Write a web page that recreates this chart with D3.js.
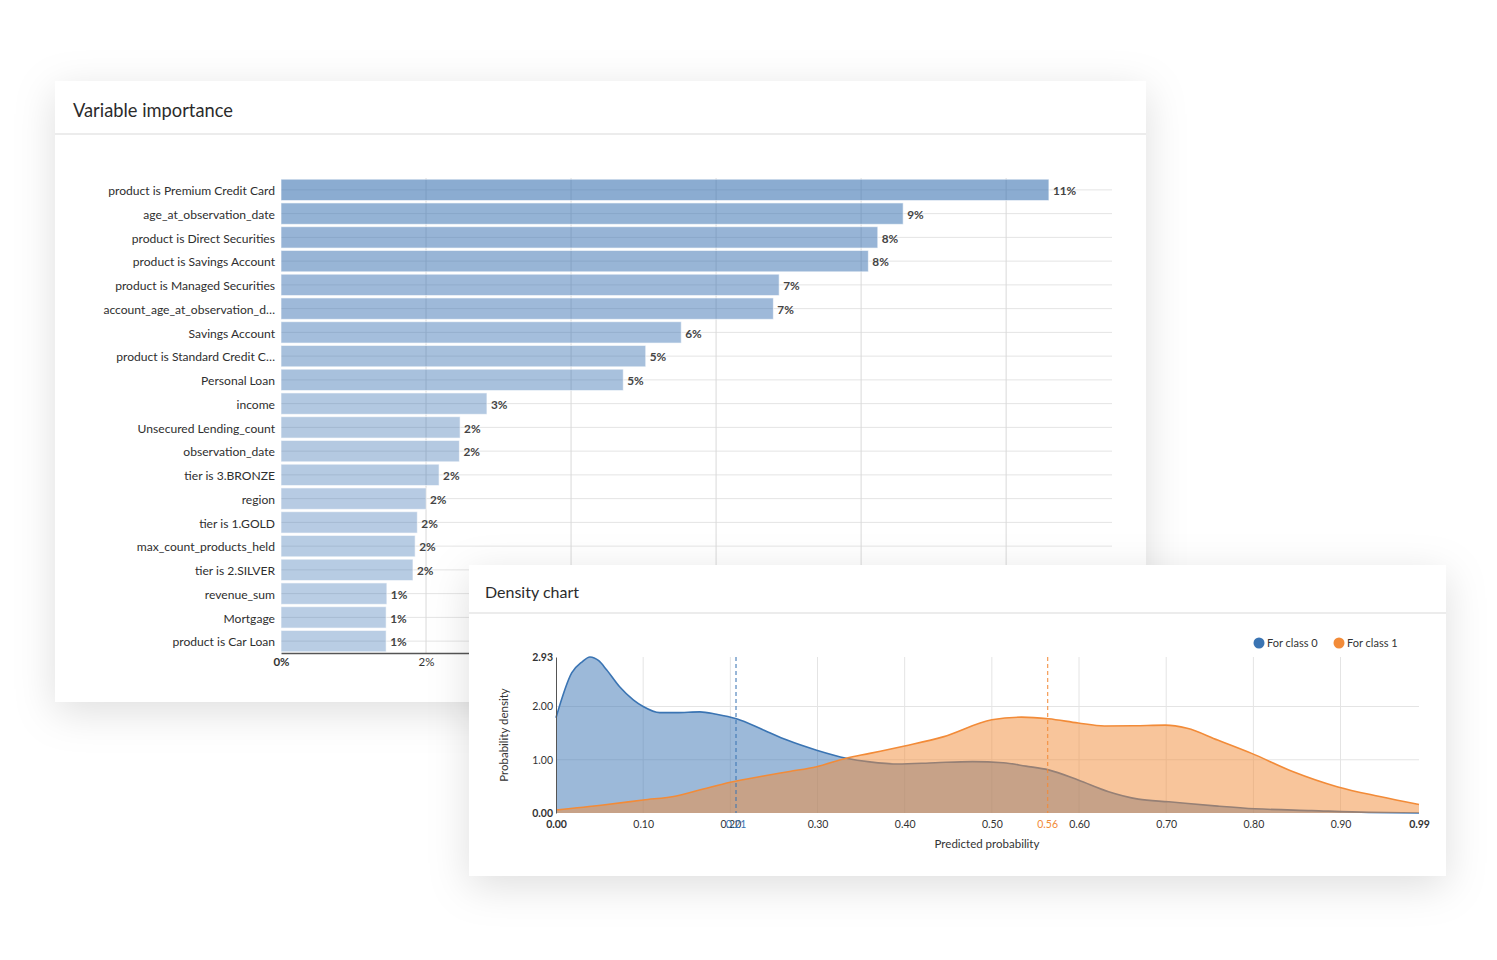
<!DOCTYPE html>
<html>
<head>
<meta charset="utf-8">
<script src="https://cdn.jsdelivr.net/npm/d3@7"></script>
<style>
  body { margin: 0; background: #fff; }
  svg text { font-family: Lato, "Open Sans", sans-serif; fill: #333; }
  .card { fill: #fff; }
  .sep { stroke: #e6e6e6; stroke-width: 1.5; }
  .title { font-size: 18.3px; fill: #2b2b2b; }
  .grid line { stroke: #e4e4e4; stroke-width: 1; }
  .feature-label { font-size: 12.1px; fill: #2e2e2e; }
  .value-label { font-size: 11.8px; font-weight: 700; fill: #444; }
  .tick-label { font-size: 11.5px; }
  .d-tick { font-size: 10.5px; }
</style>
</head>
<body>
<div id="vis"></div>
<script>

var features = ["product is Premium Credit Card", "age_at_observation_date", "product is Direct Securities",
  "product is Savings Account", "product is Managed Securities", "account_age_at_observation_d\u2026",
  "Savings Account", "product is Standard Credit C\u2026", "Personal Loan", "income",
  "Unsecured Lending_count", "observation_date", "tier is 3.BRONZE", "region", "tier is 1.GOLD",
  "max_count_products_held", "tier is 2.SILVER", "revenue_sum", "Mortgage", "product is Car Loan"];
var importance = [0.1059, 0.0858, 0.0823, 0.0810, 0.0687, 0.0679, 0.0552, 0.0503, 0.0472, 0.0284,
  0.0247, 0.0246, 0.0218, 0.0200, 0.0188, 0.0185, 0.0182, 0.0146, 0.0145, 0.0145];
var importanceTicks = [0, 0.02, 0.04, 0.06, 0.08, 0.10];

var class0X = [0, 0.018, 0.03, 0.039, 0.049, 0.058, 0.073, 0.089, 0.10, 0.119, 0.138, 0.165, 0.184, 0.207,
  0.238, 0.265, 0.299, 0.333, 0.36, 0.392, 0.435, 0.478, 0.513, 0.539, 0.565, 0.599, 0.634, 0.668,
  0.703, 0.759, 0.802, 0.867, 0.932, 0.99];
var class0Y = [1.79, 2.63, 2.84, 2.93, 2.86, 2.69, 2.37, 2.12, 2.00, 1.885, 1.885, 1.90, 1.855, 1.77,
  1.56, 1.37, 1.18, 1.03, 0.96, 0.92, 0.945, 0.965, 0.945, 0.88, 0.81, 0.62, 0.40, 0.26,
  0.21, 0.13, 0.08, 0.045, 0.012, 0.0];
var class1X = [0, 0.054, 0.10, 0.138, 0.169, 0.20, 0.238, 0.268, 0.299, 0.333, 0.36, 0.40, 0.444, 0.50,
  0.534, 0.565, 0.599, 0.629, 0.664, 0.699, 0.724, 0.759, 0.798, 0.845, 0.897, 0.945, 0.99];
var class1Y = [0.056, 0.15, 0.244, 0.32, 0.45, 0.577, 0.695, 0.78, 0.87, 1.03, 1.12, 1.26, 1.43, 1.75,
  1.80, 1.77, 1.69, 1.635, 1.64, 1.65, 1.59, 1.37, 1.12, 0.78, 0.49, 0.31, 0.16];
var classNames = ["For class 0", "For class 1"];
var classColors = ["#3a74b3", "#f28b38"];
var classMeans = [0.2065, 0.564];
var densityXTicks = [0, 0.1, 0.2, 0.3, 0.4, 0.5, 0.6, 0.7, 0.8, 0.9, 0.99];
var densityYTicks = [0, 1, 2, 2.93];

var svg = d3.select("#vis").append("svg")
  .attr("width", 1497)
  .attr("height", 960);

var defs = svg.append("defs");
var shadow = defs.append("filter")
  .attr("id", "shadow")
  .attr("x", "-20%").attr("y", "-30%")
  .attr("width", "140%").attr("height", "160%");
shadow.append("feDropShadow")
  .attr("dx", 0).attr("dy", 10)
  .attr("stdDeviation", 20)
  .attr("flood-color", "#000")
  .attr("flood-opacity", 0.13);

// ---- card 1: variable importance
var card1 = {x: 55, y: 81, w: 1091, h: 621};
var c1 = svg.append("g");
c1.append("rect").attr("class", "card")
  .attr("x", card1.x).attr("y", card1.y)
  .attr("width", card1.w).attr("height", card1.h)
  .attr("filter", "url(#shadow)");
c1.append("line").attr("class", "sep")
  .attr("x1", card1.x).attr("x2", card1.x + card1.w)
  .attr("y1", 134).attr("y2", 134);
c1.append("text").attr("class", "title")
  .attr("x", 73).attr("y", 117)
  .text("Variable importance");

var bx = d3.scaleLinear().domain([0, 0.1146]).range([281, 1112]);
var by = d3.scaleBand().domain(features).range([178, 653]).paddingInner(0.1).paddingOuter(0.05);
var op = d3.scaleLinear().domain(d3.extent(importance)).range([0.36, 0.6]);
var pct = d3.format(".0%");

c1.append("g").attr("class", "grid")
  .selectAll("line").data(features).enter()
  .append("line")
  .attr("x1", bx(0)).attr("x2", bx.range()[1])
  .attr("y1", function(d) { return by(d) + by.bandwidth() / 2; })
  .attr("y2", function(d) { return by(d) + by.bandwidth() / 2; });

c1.append("g").attr("class", "grid")
  .selectAll("line").data(importanceTicks.slice(1)).enter()
  .append("line")
  .attr("x1", function(d) { return bx(d); }).attr("x2", function(d) { return bx(d); })
  .attr("y1", 178).attr("y2", 653)
  .style("stroke", "#d9d9d9");

c1.selectAll(".bar").data(features).enter()
  .append("rect")
  .attr("class", "bar")
  .attr("x", bx(0))
  .attr("y", function(d) { return by(d); })
  .attr("width", function(d, i) { return bx(importance[i]) - bx(0); })
  .attr("height", by.bandwidth())
  .attr("fill", "#3d74b3")
  .attr("fill-opacity", function(d, i) { return op(importance[i]); })
  .attr("stroke", "#fff")
  .attr("stroke-opacity", 0.6)
  .attr("stroke-width", 1);

c1.selectAll(".feature-label").data(features).enter()
  .append("text")
  .attr("class", "feature-label")
  .attr("text-anchor", "end")
  .attr("x", 275)
  .attr("y", function(d) { return by(d) + by.bandwidth() / 2 + 1; })
  .attr("dy", "0.35em")
  .text(function(d) { return d; });

c1.selectAll(".value-label").data(features).enter()
  .append("text")
  .attr("class", "value-label")
  .attr("x", function(d, i) { return bx(importance[i]) + 4; })
  .attr("y", function(d) { return by(d) + by.bandwidth() / 2 + 1; })
  .attr("dy", "0.35em")
  .text(function(d, i) { return pct(importance[i]); });

var bAxis = c1.append("g")
  .attr("transform", "translate(0,653)")
  .call(d3.axisBottom(bx).tickValues(importanceTicks).tickFormat(pct).tickSize(0).tickPadding(5));
bAxis.select(".domain").attr("stroke", "#555").attr("stroke-width", 1.5);
bAxis.selectAll("text").attr("class", "tick-label")
  .style("font-weight", function(d) { return d === 0 ? 700 : 400; })
  .style("font-family", "Lato, sans-serif").attr("fill", "#333");

// ---- card 2: density chart
var card2 = {x: 469, y: 565, w: 977, h: 311};
var c2 = svg.append("g");
c2.append("rect").attr("class", "card")
  .attr("x", card2.x).attr("y", card2.y)
  .attr("width", card2.w).attr("height", card2.h)
  .attr("filter", "url(#shadow)");
c2.append("line").attr("class", "sep")
  .attr("x1", card2.x).attr("x2", card2.x + card2.w)
  .attr("y1", 613).attr("y2", 613);
c2.append("text").attr("class", "title")
  .attr("x", 485).attr("y", 598)
  .style("font-size", "16px")
  .text("Density chart");

var dx = d3.scaleLinear().domain([0, 0.99]).range([556, 1419]);
var dy = d3.scaleLinear().domain([0, 2.93]).range([813, 657]);
var f2 = d3.format(".2f");

c2.append("g").attr("class", "grid")
  .selectAll("line").data(densityXTicks.slice(1, -1)).enter()
  .append("line")
  .attr("x1", function(d) { return dx(d); }).attr("x2", function(d) { return dx(d); })
  .attr("y1", dy(2.93)).attr("y2", dy(0));
c2.append("g").attr("class", "grid")
  .selectAll("line").data([1, 2]).enter()
  .append("line")
  .attr("x1", dx(0)).attr("x2", dx(0.99))
  .attr("y1", function(d) { return dy(d); }).attr("y2", function(d) { return dy(d); });

var series = [
  class0X.map(function(x, i) { return [x, class0Y[i]]; }),
  class1X.map(function(x, i) { return [x, class1Y[i]]; })
];

var area = d3.area().curve(d3.curveMonotoneX)
  .x(function(d) { return dx(d[0]); })
  .y0(dy(0))
  .y1(function(d) { return dy(d[1]); });
var line = d3.line().curve(d3.curveMonotoneX)
  .x(function(d) { return dx(d[0]); })
  .y(function(d) { return dy(d[1]); });

series.forEach(function(s, i) {
  c2.append("path").attr("d", area(s))
    .attr("fill", classColors[i]).attr("fill-opacity", 0.5);
  c2.append("path").attr("d", line(s))
    .attr("fill", "none").attr("stroke", classColors[i]).attr("stroke-width", 1.6);
});

c2.selectAll(".mean-line").data(classMeans).enter()
  .append("line")
  .attr("class", "mean-line")
  .attr("x1", function(d) { return dx(d); }).attr("x2", function(d) { return dx(d); })
  .attr("y1", dy(2.93)).attr("y2", dy(0))
  .attr("stroke", function(d, i) { return classColors[i]; })
  .attr("stroke-opacity", 0.8)
  .attr("stroke-dasharray", "4,3")
  .attr("stroke-width", 1.3);

var xAx = c2.append("g")
  .attr("transform", "translate(0," + dy(0) + ")")
  .call(d3.axisBottom(dx).tickValues(densityXTicks).tickFormat(f2).tickSize(0).tickPadding(8));
xAx.select(".domain").remove();
xAx.selectAll("text").attr("class", "d-tick")
  .style("font-family", "Lato, sans-serif").attr("fill", "#333")
  .style("font-weight", function(d, i) { return (i === 0 || i === densityXTicks.length - 1) ? 700 : 400; });

var yAx = c2.append("g")
  .attr("transform", "translate(" + dx(0) + ",0)")
  .call(d3.axisLeft(dy).tickValues(densityYTicks).tickFormat(f2).tickSize(0).tickPadding(3));
yAx.select(".domain").attr("stroke", "#555").attr("stroke-width", 1);
yAx.selectAll("text").attr("class", "d-tick")
  .style("font-family", "Lato, sans-serif").attr("fill", "#222")
  .style("font-weight", function(d, i) { return (i === 0 || i === densityYTicks.length - 1) ? 700 : 400; });

c2.selectAll(".mean-label").data(classMeans).enter()
  .append("text")
  .attr("class", "d-tick")
  .attr("text-anchor", "middle")
  .attr("x", function(d) { return dx(d); })
  .attr("y", dy(0) + 8)
  .attr("dy", "0.71em")
  .style("fill", function(d, i) { return classColors[i]; })
  .text(function(d) { return f2(d); });

c2.append("text")
  .attr("text-anchor", "middle")
  .attr("x", 987).attr("y", 848)
  .style("font-size", "11.5px")
  .text("Predicted probability");
c2.append("text")
  .attr("text-anchor", "middle")
  .attr("transform", "translate(508,735) rotate(-90)")
  .style("font-size", "11.5px")
  .text("Probability density");

var legend = c2.selectAll(".legend").data(classNames).enter()
  .append("g")
  .attr("class", "legend")
  .attr("transform", function(d, i) { return "translate(" + (1259 + i * 80) + ",643)"; });
legend.append("circle").attr("r", 5.5)
  .attr("fill", function(d, i) { return classColors[i]; });
legend.append("text")
  .attr("x", 8).attr("dy", "0.35em")
  .style("font-size", "11px")
  .text(function(d) { return d; });

</script>
</body>
</html>
